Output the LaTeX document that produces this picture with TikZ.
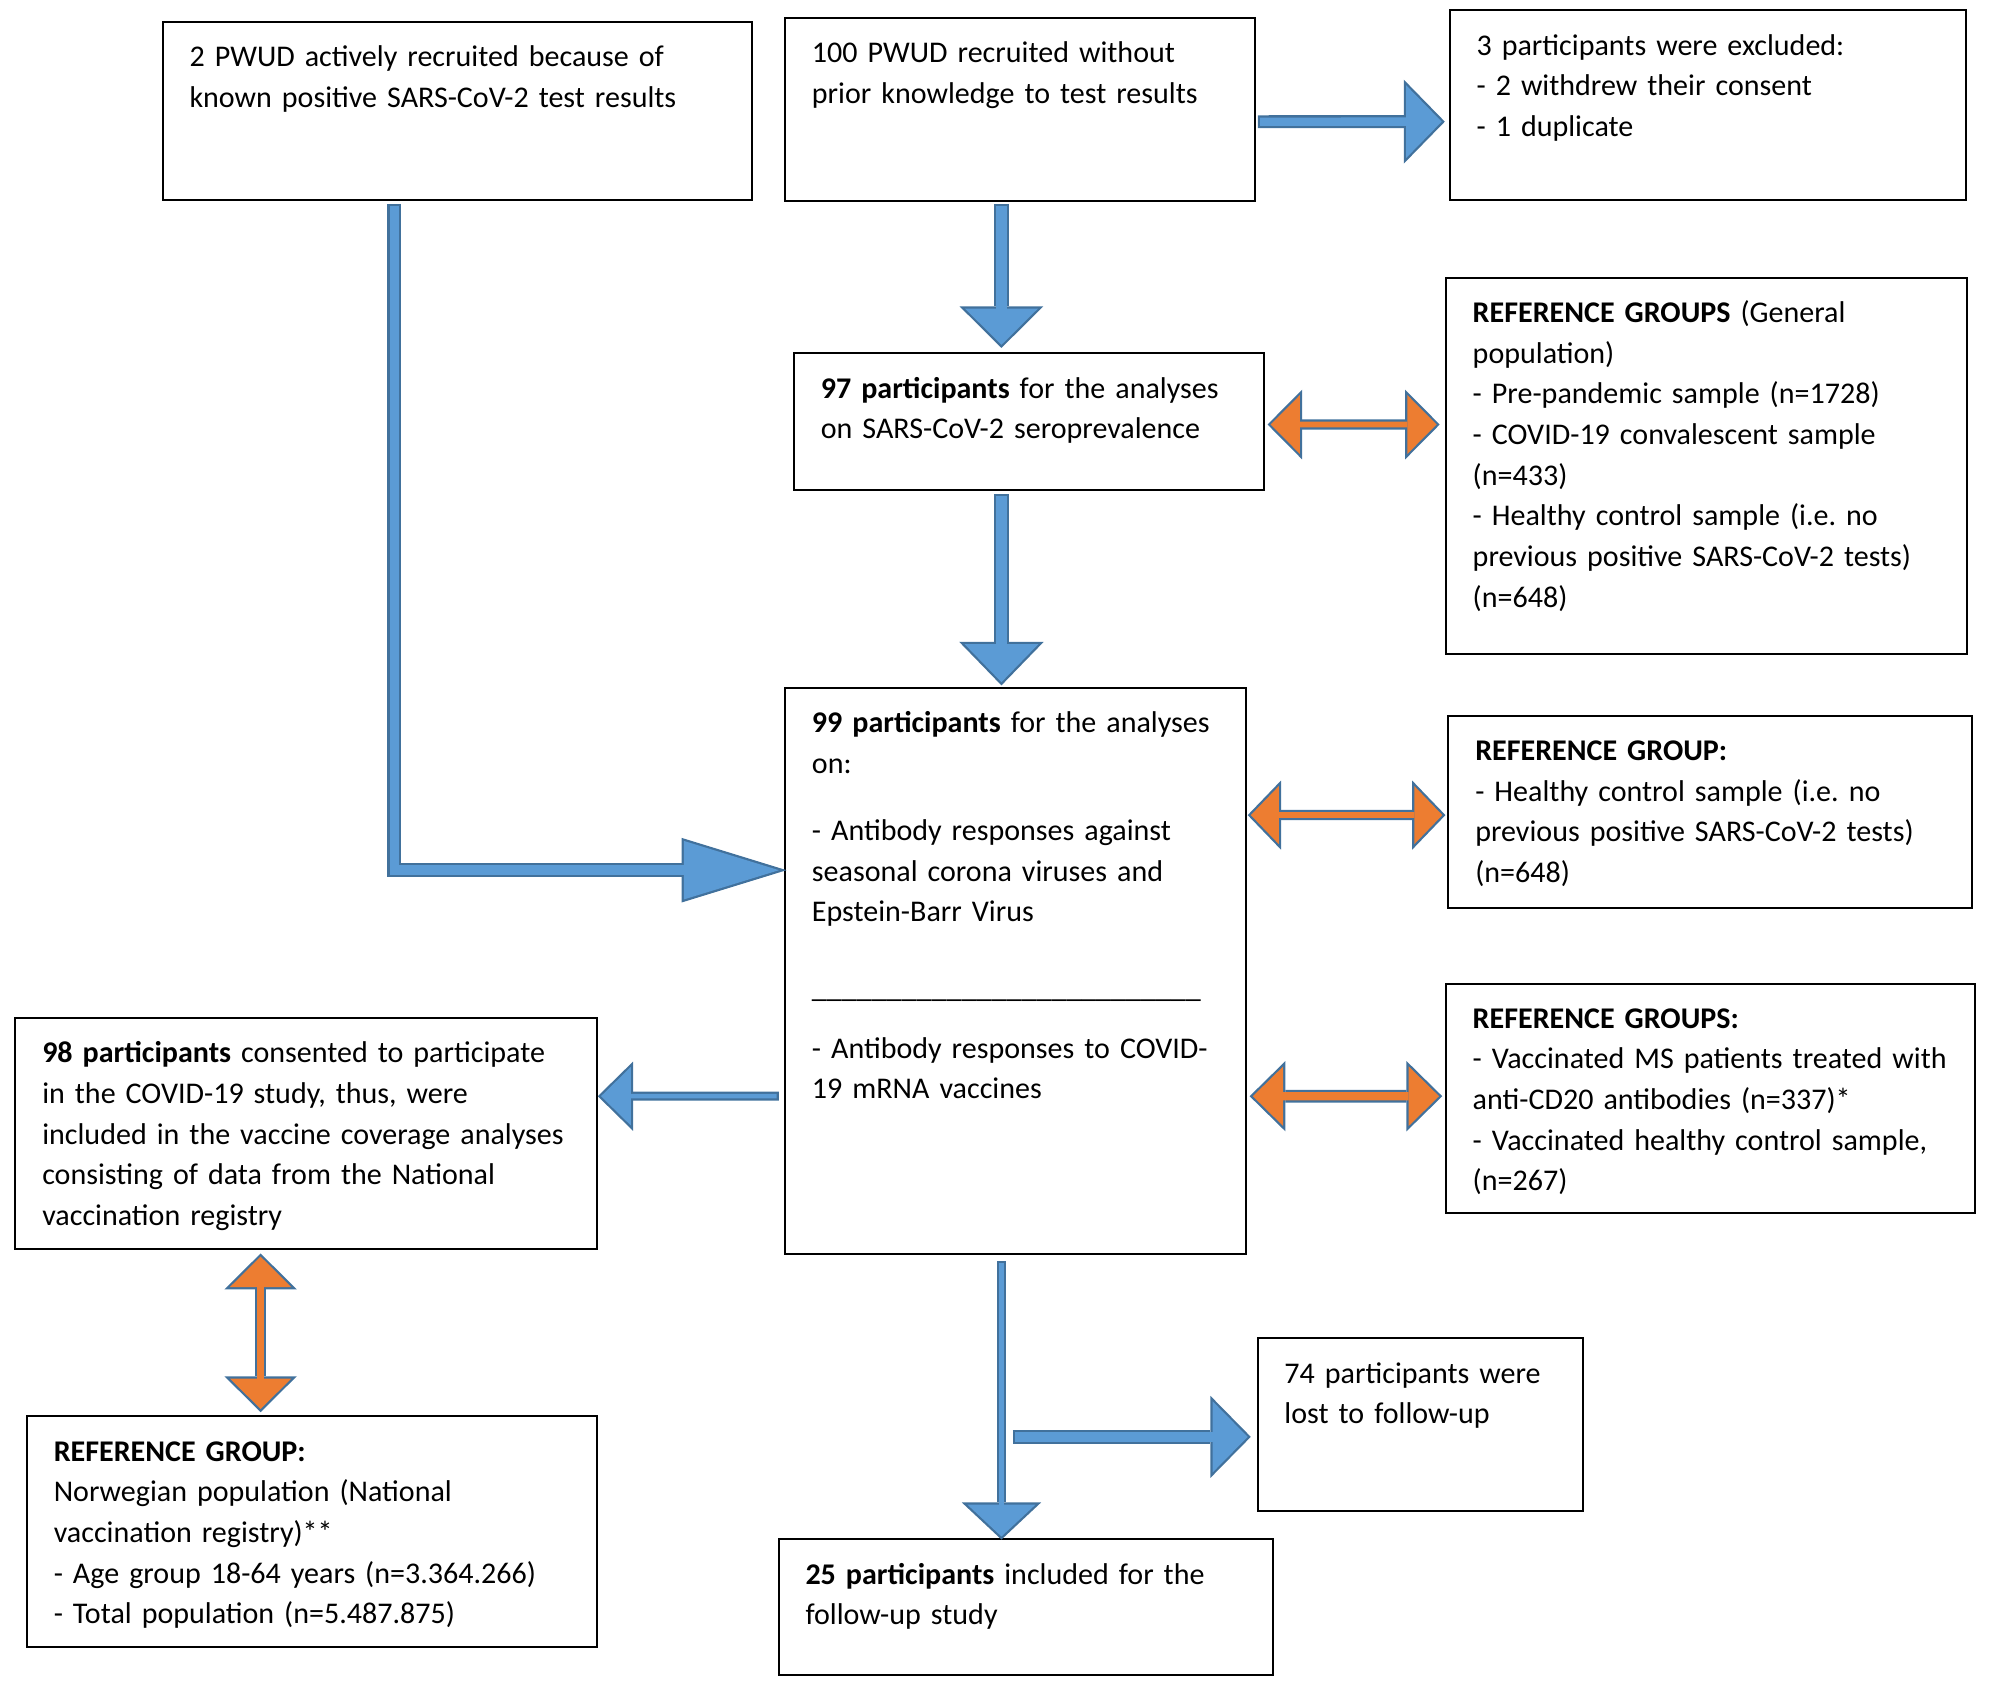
\documentclass[tikz,border=0pt]{standalone}
\usepackage{fontspec}
\setmainfont{Carlito}
\usepackage{xcolor}
\usepackage{tikz}
\usetikzlibrary{arrows.meta, positioning, calc}

\definecolor{arrowblue}{HTML}{5B9BD5}
\definecolor{arroworange}{HTML}{ED7D31}
\definecolor{arrowline}{HTML}{41719C}

% outline of the block arrows (pt) and size of the inner, lighter head
\newcommand{\arrowrim}{1}
\newcommand{\arrowinner}[2]{%
  \pgfmathsetmacro\arrowhalf{0.5*(#2)}%
  \pgfmathsetmacro\arrowrad{(#1)*\arrowhalf/(\arrowhalf+veclen(#1,\arrowhalf))}%
  \pgfmathsetmacro\arrowk{(\arrowrad-\arrowrim)/\arrowrad}%
  \pgfmathsetmacro\arrowlen{\arrowk*(#1)}%
  \pgfmathsetmacro\arrowwid{\arrowk*(#2)}%
  \pgfmathsetmacro\arrowback{((#1)-\arrowrad)*\arrowrim/\arrowrad}%
}

\begin{document}
\begin{tikzpicture}[
    box/.style={rectangle, draw, line width=0.9pt, align=left, inner xsep=0pt, inner ysep=0pt,
        text height=0.7cm, font=\fontsize{13.35}{18.05}\selectfont,
        execute at begin node={\leftskip=0.42cm\relax}},
    blockarrow/.code n args={4}{% colour, shaft, head length, head width
        \arrowinner{#3}{#4}%
        \pgfmathsetmacro\arrowshaft{(#2)-2*\arrowrim}%
        \pgfkeysalso{draw=arrowline, line width=#2, -{Triangle[length=#3, width=#4, line width=0pt]},
            postaction={draw=#1, line width=\arrowshaft pt, shorten <=\arrowrim pt, shorten >=\arrowback pt,
                -{Triangle[length=\arrowlen pt, width=\arrowwid pt, line width=0pt]}}}},
    twoheaded/.code n args={4}{% colour, shaft, head length, head width
        \arrowinner{#3}{#4}%
        \pgfmathsetmacro\arrowshaft{(#2)-2*\arrowrim}%
        \pgfkeysalso{draw=arrowline, line width=#2,
            {Triangle[length=#3, width=#4, line width=0pt]}-{Triangle[length=#3, width=#4, line width=0pt]},
            postaction={draw=#1, line width=\arrowshaft pt, shorten <=\arrowback pt, shorten >=\arrowback pt,
                {Triangle[length=\arrowlen pt, width=\arrowwid pt, line width=0pt]}-{Triangle[length=\arrowlen pt, width=\arrowwid pt, line width=0pt]}}}}
]
    \useasboundingbox (0,0) rectangle (31.36,-26.42);

    % Nodes
    \node [box, text width=9.2cm, text depth=2.08cm] (pwud2) at (7.14,-1.73)
        {2 PWUD actively recruited because of\\known positive SARS-CoV-2 test results};
    \node [box, right of=pwud2, node distance=8.79cm, yshift=0.02cm, text width=7.34cm, text depth=2.16cm] (pwud100)
        {100 PWUD recruited without\\prior knowledge to test results};
    \node [box, right of=pwud100, node distance=10.74cm, yshift=0.07cm, text width=8.06cm, text depth=2.26cm] (excl)
        {3 participants were excluded:\\- 2 withdrew their consent\\- 1 duplicate};
    \node [box, below of=pwud100, node distance=4.88cm, xshift=0.14cm, text width=7.34cm, text depth=1.44cm] (part97)
        {\textbf{97 participants} for the analyses\\on SARS-CoV-2 seroprevalence};
    \node [box, right of=part97, node distance=10.58cm, yshift=-0.69cm, text width=8.14cm, text depth=5.18cm] (ref1)
        {\textbf{REFERENCE GROUPS} (General\\population)\\- Pre-pandemic sample (n=1728)\\- COVID-19 convalescent sample\\(n=433)\\- Healthy control sample (i.e.\ no\\previous positive SARS-CoV-2 tests)\\(n=648)};
    \node [box, below of=part97, node distance=8.57cm, xshift=-0.21cm, text width=7.2cm, text depth=8.14cm] (part99)
        {\textbf{99 participants} for the analyses\\on:\\[0.42cm]- Antibody responses against\\seasonal corona viruses and\\Epstein-Barr Virus\\[0.54cm]\_\_\_\_\_\_\_\_\_\_\_\_\_\_\_\_\_\_\_\_\_\_\_\_\_\_\\[0.32cm]- Antibody responses to COVID-\\19 mRNA vaccines};

    % Reference groups beside the main column
    \node [box, right of=part99, node distance=10.85cm, yshift=2.48cm, text width=8.18cm, text depth=2.3cm] (refhc)
        {\textbf{REFERENCE GROUP:}\\- Healthy control sample (i.e.\ no\\previous positive SARS-CoV-2 tests)\\(n=648)};
    \node [box, right of=part99, node distance=10.85cm, yshift=-1.99cm, text width=8.26cm, text depth=2.88cm] (refms)
        {\textbf{REFERENCE GROUPS:}\\- Vaccinated MS patients treated with\\anti-CD20 antibodies (n=337)*\\- Vaccinated healthy control sample,\\(n=267)};
    \node [box, left of=part99, node distance=11.08cm, yshift=-2.54cm, text width=9.08cm, text depth=2.9cm] (part98)
        {\textbf{98 participants} consented to participate\\in the COVID-19 study, thus, were\\included in the vaccine coverage analyses\\consisting of data from the National\\vaccination registry};
    \node [box, below of=part98, node distance=6.22cm, xshift=0.09cm, text width=8.9cm, text depth=2.9cm] (refnor)
        {\textbf{REFERENCE GROUP:}\\Norwegian population (National\\vaccination registry)**\\- Age group 18-64 years (n=3.364.266)\\- Total population (n=5.487.875)};
    \node [box, below of=part99, node distance=9.94cm, xshift=0.16cm, text width=7.72cm, text depth=1.42cm] (part25)
        {\textbf{25 participants} included for the\\follow-up study};
    \node [box, right of=part25, node distance=6.16cm, yshift=2.85cm, text width=5.08cm, text depth=2.0cm] (lost)
        {74 participants were\\lost to follow-up};

    \coordinate (spine) at (15.64,0);
    \coordinate (branch) at ($(spine |- lost.west)+(0.18,-0.19)$);

    % Arrows
    \draw [blockarrow={arrowblue}{0.24cm}{0.65cm}{1.31cm}] ($(pwud100.south -| spine)+(0,-0.03)$) -- ($(part97.north -| spine)+(0,0.07)$);
    \draw [blockarrow={arrowblue}{0.24cm}{0.68cm}{1.32cm}] ($(part97.south -| spine)+(0,-0.04)$) -- ($(part99.north -| spine)+(0,0.02)$);
    \draw [blockarrow={arrowblue}{0.2cm}{0.64cm}{1.31cm}] ([shift={(0.03,-0.19)}]pwud100.east) -- ([shift={(-0.06,-0.26)}]excl.west);
    \draw [blockarrow={arrowblue}{0.22cm}{1.64cm}{1.01cm}] ([shift={(-0.98,-0.05)}]pwud2.south) |- ([shift={(0.04,1.57)}]part99.west);
    \draw [blockarrow={arrowblue}{0.14cm}{0.55cm}{1.08cm}] ([shift={(-0.08,-1.96)}]part99.west) -- ([yshift=0.58cm]part98.east);
    \draw [blockarrow={arrowblue}{0.14cm}{0.58cm}{1.24cm}] ($(part99.south -| spine)+(0,-0.1)$) -- ($(part25.north -| spine)+(0,-0.02)$);
    \draw [blockarrow={arrowblue}{0.22cm}{0.63cm}{1.28cm}] (branch) -- ([shift={(-0.09,-0.19)}]lost.west);

    \draw [twoheaded={arroworange}{0.16cm}{0.54cm}{1.09cm}] ([shift={(0.04,-0.04)}]part97.east) -- ([shift={(-0.08,0.65)}]ref1.west);
    \draw [twoheaded={arroworange}{0.16cm}{0.52cm}{1.08cm}] ([shift={(0.01,2.43)}]part99.east) -- ([shift={(-0.03,-0.05)}]refhc.west);
    \draw [twoheaded={arroworange}{0.2cm}{0.56cm}{1.1cm}] ([shift={(0.04,-1.96)}]part99.east) -- ([shift={(-0.04,0.03)}]refms.west);
    \draw [twoheaded={arroworange}{0.18cm}{0.56cm}{1.13cm}] ([shift={(-0.71,-0.06)}]part98.south) -- ([shift={(-0.8,0.05)}]refnor.north);

\end{tikzpicture}
\end{document}
